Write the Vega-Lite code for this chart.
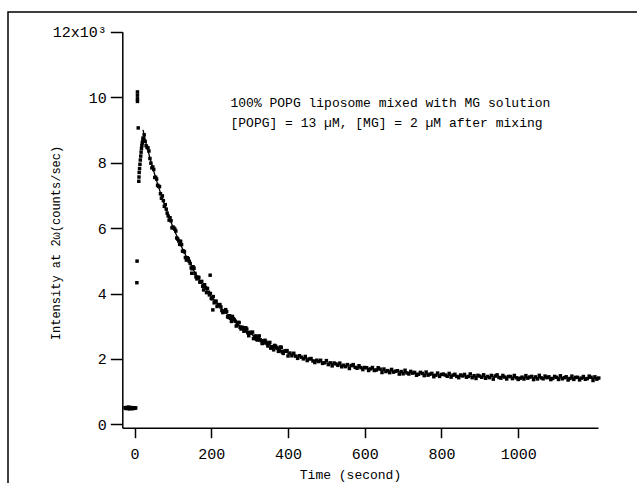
{
  "$schema": "https://vega.github.io/schema/vega-lite/v6.json",
  "autosize": {"type": "none"},
  "width": 629,
  "height": 471,
  "padding": {"left": 8, "top": 12, "right": 0, "bottom": 0},
  "background": "white",
  "config": {
    "view": {"stroke": "black", "strokeWidth": 1.5, "strokeDash": [629, 1100, 471]},
    "axis": {
      "grid": false,
      "domainColor": "black",
      "domainWidth": 1.5,
      "tickColor": "black",
      "tickWidth": 1.5,
      "labelFont": "Liberation Mono",
      "labelFontSize": 15,
      "labelColor": "black",
      "titleFont": "Liberation Mono",
      "titleColor": "black",
      "titleFontWeight": "normal"
    }
  },
  "datasets": {
    "pts": [
      {"t":-25,"v":510},{"t":-23,"v":490},{"t":-21,"v":520},{"t":-19,"v":485},{"t":-17,"v":500},{"t":-15,"v":530},{"t":-13,"v":475},{"t":-11,"v":505},{"t":-9,"v":495},{"t":-7,"v":515},{"t":-5,"v":480},{"t":-3,"v":500},{"t":-1,"v":510},{"t":1,"v":495},{"t":3,"v":505},
      {"t":6,"v":4330},{"t":6.5,"v":4990},{"t":7.5,"v":9870},{"t":7.5,"v":9950},{"t":7.5,"v":10060},{"t":7.5,"v":10160},{"t":9.5,"v":9060},
      {"t":11,"v":7430},{"t":11.5,"v":7560},{"t":12,"v":7700},{"t":13,"v":7820},{"t":14,"v":7950},{"t":15,"v":8080},{"t":16,"v":8200},{"t":17,"v":8320},{"t":18,"v":8430},{"t":19,"v":8520},{"t":20,"v":8600},{"t":21,"v":8650},{"t":22,"v":8750},{"t":23,"v":8700},
      {"t":25,"v":8848},{"t":30,"v":8518},{"t":35,"v":8450},{"t":40,"v":8125},{"t":45,"v":7839},{"t":50,"v":7791},{"t":55,"v":7551},{"t":60,"v":7307},{"t":65,"v":7266},{"t":70,"v":6912},
      {"t":75,"v":6838},{"t":80,"v":6716},{"t":85,"v":6455},{"t":90,"v":6243},{"t":95,"v":6223},{"t":100,"v":6032},{"t":105,"v":5966},{"t":110,"v":5696},{"t":115,"v":5606},{"t":120,"v":5597},
      {"t":125,"v":5295},{"t":130,"v":5273},{"t":135,"v":5022},{"t":140,"v":5062},{"t":145,"v":4918},{"t":150,"v":4756},{"t":155,"v":4773},{"t":160,"v":4508},{"t":165,"v":4499},{"t":170,"v":4349},
      {"t":175,"v":4371},{"t":180,"v":4110},{"t":185,"v":4181},{"t":190,"v":4156},{"t":195,"v":3958},{"t":200,"v":3849},{"t":205,"v":3908},{"t":210,"v":3760},{"t":215,"v":3604},{"t":220,"v":3658},
      {"t":149,"v":4620},{"t":197,"v":4560},{"t":204,"v":3500},
      {"t":225,"v":3590},{"t":230,"v":3417},{"t":235,"v":3436},{"t":240,"v":3447},{"t":245,"v":3270},{"t":250,"v":3244},{"t":255,"v":3300},{"t":260,"v":3197},{"t":265,"v":3006},{"t":270,"v":3117},
      {"t":275,"v":2969},{"t":280,"v":2973},{"t":285,"v":2848},{"t":290,"v":2954},{"t":295,"v":2801},{"t":300,"v":2810},{"t":305,"v":2800},{"t":310,"v":2622},{"t":315,"v":2705},{"t":320,"v":2578},
      {"t":325,"v":2703},{"t":330,"v":2558},{"t":335,"v":2485},{"t":340,"v":2572},{"t":345,"v":2471},{"t":350,"v":2480},{"t":355,"v":2331},{"t":360,"v":2352},{"t":365,"v":2415},{"t":370,"v":2348},
      {"t":375,"v":2232},{"t":380,"v":2366},{"t":385,"v":2212},{"t":390,"v":2238},{"t":395,"v":2255},{"t":400,"v":2092},
      {"t":27.5,"v":8650},{"t":32.5,"v":8463},{"t":37.5,"v":8355},{"t":42.5,"v":7983},{"t":47.5,"v":7867},{"t":52.5,"v":7548},{"t":57.5,"v":7496},{"t":62.5,"v":7279},{"t":67.5,"v":7048},{"t":72.5,"v":6983},
      {"t":77.5,"v":6663},{"t":82.5,"v":6579},{"t":87.5,"v":6370},{"t":92.5,"v":6315},{"t":97.5,"v":6006},{"t":102.5,"v":6001},{"t":107.5,"v":5910},{"t":112.5,"v":5664},{"t":117.5,"v":5502},{"t":122.5,"v":5494},
      {"t":127.5,"v":5301},{"t":132.5,"v":5101},{"t":137.5,"v":5094},{"t":142.5,"v":4982},{"t":147.5,"v":4783},{"t":152.5,"v":4817},{"t":157.5,"v":4615},{"t":162.5,"v":4447},{"t":167.5,"v":4491},{"t":172.5,"v":4359},
      {"t":177.5,"v":4223},{"t":182.5,"v":4269},{"t":187.5,"v":4027},{"t":192.5,"v":4039},{"t":197.5,"v":4002},{"t":202.5,"v":3838},{"t":207.5,"v":3716},{"t":212.5,"v":3766},{"t":217.5,"v":3659},{"t":222.5,"v":3663},
      {"t":227.5,"v":3479},{"t":232.5,"v":3457},{"t":237.5,"v":3507},{"t":242.5,"v":3289},{"t":247.5,"v":3322},{"t":252.5,"v":3147},{"t":257.5,"v":3234},{"t":262.5,"v":3152},{"t":267.5,"v":3052},{"t":272.5,"v":3113},
      {"t":277.5,"v":2916},{"t":282.5,"v":2951},{"t":287.5,"v":2856},{"t":292.5,"v":2913},{"t":297.5,"v":2711},{"t":302.5,"v":2810},{"t":307.5,"v":2821},{"t":312.5,"v":2674},{"t":317.5,"v":2607},{"t":322.5,"v":2691},
      {"t":327.5,"v":2586},{"t":332.5,"v":2472},{"t":337.5,"v":2549},{"t":342.5,"v":2517},{"t":347.5,"v":2396},{"t":352.5,"v":2506},{"t":357.5,"v":2377},{"t":362.5,"v":2279},{"t":367.5,"v":2392},{"t":372.5,"v":2325},
      {"t":377.5,"v":2249},{"t":382.5,"v":2354},{"t":387.5,"v":2170},{"t":392.5,"v":2237},{"t":397.5,"v":2254},
      {"t":405,"v":2181},{"t":410,"v":2097},{"t":415,"v":2175},{"t":420,"v":2086},{"t":425,"v":2019},{"t":430,"v":2099},{"t":435,"v":2054},{"t":440,"v":2003},{"t":445,"v":2078},{"t":450,"v":1951},
      {"t":455,"v":2000},{"t":460,"v":2014},{"t":465,"v":1938},{"t":470,"v":1890},{"t":475,"v":1962},{"t":480,"v":1922},{"t":485,"v":1960},{"t":490,"v":1865},{"t":495,"v":1883},{"t":500,"v":1950},
      {"t":505,"v":1828},{"t":510,"v":1882},{"t":515,"v":1789},{"t":520,"v":1878},{"t":525,"v":1848},{"t":530,"v":1805},{"t":535,"v":1874},{"t":540,"v":1761},{"t":545,"v":1809},{"t":550,"v":1766},
      {"t":555,"v":1828},{"t":560,"v":1709},{"t":565,"v":1800},{"t":570,"v":1828},{"t":575,"v":1744},{"t":580,"v":1716},{"t":585,"v":1793},{"t":590,"v":1737},{"t":595,"v":1675},{"t":600,"v":1739},
      {"t":605,"v":1732},{"t":610,"v":1648},{"t":615,"v":1697},{"t":620,"v":1739},{"t":625,"v":1648},{"t":630,"v":1662},{"t":635,"v":1732},{"t":640,"v":1690},{"t":645,"v":1586},{"t":650,"v":1692},
      {"t":655,"v":1615},{"t":660,"v":1644},{"t":665,"v":1582},{"t":670,"v":1681},{"t":675,"v":1598},{"t":680,"v":1627},{"t":685,"v":1642},{"t":690,"v":1538},{"t":695,"v":1616},{"t":700,"v":1547},
      {"t":705,"v":1655},{"t":710,"v":1573},{"t":715,"v":1541},{"t":720,"v":1620},{"t":725,"v":1567},{"t":730,"v":1590},{"t":735,"v":1502},{"t":740,"v":1533},{"t":745,"v":1591},{"t":750,"v":1559},
      {"t":755,"v":1492},{"t":760,"v":1600},{"t":765,"v":1505},{"t":770,"v":1536},{"t":775,"v":1560},{"t":780,"v":1458},{"t":785,"v":1503},{"t":790,"v":1569},{"t":795,"v":1467},{"t":800,"v":1526},
      {"t":805,"v":1538},{"t":810,"v":1508},{"t":815,"v":1470},{"t":820,"v":1559},{"t":825,"v":1445},{"t":830,"v":1506},{"t":835,"v":1532},{"t":840,"v":1467},{"t":845,"v":1429},{"t":850,"v":1511},
      {"t":855,"v":1481},{"t":860,"v":1528},{"t":865,"v":1442},{"t":870,"v":1468},{"t":875,"v":1543},{"t":880,"v":1429},{"t":885,"v":1490},{"t":890,"v":1404},{"t":895,"v":1500},{"t":900,"v":1477},
      {"t":905,"v":1441},{"t":910,"v":1516},{"t":915,"v":1410},{"t":920,"v":1465},{"t":925,"v":1429},{"t":930,"v":1497},{"t":935,"v":1384},{"t":940,"v":1481},{"t":945,"v":1515},{"t":950,"v":1436},
      {"t":955,"v":1414},{"t":960,"v":1497},{"t":965,"v":1447},{"t":970,"v":1389},{"t":975,"v":1465},{"t":980,"v":1464},{"t":985,"v":1400},{"t":990,"v":1496},{"t":995,"v":1425},{"t":1000,"v":1375},
      {"t":1005,"v":1409},{"t":1010,"v":1444},{"t":1015,"v":1387},{"t":1020,"v":1491},{"t":1025,"v":1414},{"t":1030,"v":1448},{"t":1035,"v":1468},{"t":1040,"v":1370},{"t":1045,"v":1453},{"t":1050,"v":1389},
      {"t":1055,"v":1500},{"t":1060,"v":1423},{"t":1065,"v":1394},{"t":1070,"v":1477},{"t":1075,"v":1428},{"t":1080,"v":1455},{"t":1085,"v":1370},{"t":1090,"v":1404},{"t":1095,"v":1467},{"t":1100,"v":1438},
      {"t":1105,"v":1374},{"t":1110,"v":1486},{"t":1115,"v":1394},{"t":1120,"v":1428},{"t":1125,"v":1456},{"t":1130,"v":1357},{"t":1135,"v":1405},{"t":1140,"v":1475},{"t":1145,"v":1376},{"t":1150,"v":1438},
      {"t":1155,"v":1438},{"t":1160,"v":1360},{"t":1165,"v":1415},{"t":1170,"v":1464},{"t":1175,"v":1379},{"t":1180,"v":1400},{"t":1185,"v":1476},{"t":1190,"v":1441},{"t":1195,"v":1342},{"t":1200,"v":1454},
      {"t":1205,"v":1383},{"t":1210,"v":1418}
    ],
    "fit": [
      {"t":22,"v":9000},{"t":30,"v":8584},{"t":40,"v":8147},{"t":50,"v":7736},{"t":60,"v":7351},{"t":70,"v":6989},{"t":80,"v":6650},{"t":90,"v":6331},{"t":100,"v":6032},
      {"t":120,"v":5487},{"t":140,"v":5007},{"t":160,"v":4585},{"t":180,"v":4220},{"t":200,"v":3904},{"t":225,"v":3560},{"t":250,"v":3264},{"t":275,"v":3009},{"t":300,"v":2790},
      {"t":325,"v":2603},{"t":350,"v":2440},{"t":375,"v":2302},{"t":400,"v":2182},{"t":450,"v":2000},{"t":500,"v":1880},{"t":550,"v":1794},{"t":600,"v":1718},{"t":700,"v":1589},
      {"t":800,"v":1505},{"t":900,"v":1463},{"t":1000,"v":1438},{"t":1100,"v":1424},{"t":1210,"v":1411}
    ]
  },
  "encoding": {
    "x": {
      "field": "t", "type": "quantitative",
      "scale": {"domain": [-32, 1208], "range": [114.3, 590], "nice": false, "zero": false},
      "axis": {
        "orient": "bottom", "offset": -55.3,
        "values": [0, 200, 400, 600, 800, 1000],
        "format": "d",
        "tickSize": 10, "labelPadding": 9,
        "title": "Time (second)", "titleFontSize": 13,
        "titleX": 342, "titleY": 47, "titleAlign": "center", "titleBaseline": "middle"
      }
    },
    "y": {
      "field": "v", "type": "quantitative",
      "scale": {"domain": [-100, 12000], "range": [415.7, 19.7], "nice": false, "zero": false},
      "axis": {
        "orient": "left", "offset": -114.3,
        "values": [0, 2000, 4000, 6000, 8000, 10000, 12000],
        "labelExpr": "datum.value == 12000 ? '12x10³\u00a0' : format(datum.value / 1000, 'd')",
        "tickSize": 12, "labelPadding": 4,
        "title": "Intensity at 2ω(counts/sec)", "titleFontSize": 12,
        "titleX": -67, "titleY": 230.5, "titleAngle": -90, "titleAlign": "center", "titleBaseline": "middle"
      }
    }
  },
  "layer": [
    {
      "data": {"name": "pts"},
      "mark": {"type": "point", "shape": "square", "filled": true, "size": 12, "color": "black", "opacity": 1}
    },
    {
      "data": {"name": "fit"},
      "mark": {"type": "line", "color": "black", "strokeWidth": 1.3}
    },
    {
      "data": {"name": "pts"},
      "transform": [{"filter": "datum.t == 250"}],
      "mark": {"type": "text", "text": "100% POPG liposome mixed with MG solution", "align": "left", "baseline": "middle", "font": "Liberation Mono", "fontSize": 13, "color": "black"},
      "encoding": {
        "y": {"datum": 9820}
      }
    },
    {
      "data": {"name": "pts"},
      "transform": [{"filter": "datum.t == 250"}],
      "mark": {"type": "text", "text": "[POPG] = 13 µM, [MG] = 2 µM after mixing", "align": "left", "baseline": "middle", "font": "Liberation Mono", "fontSize": 13, "color": "black"},
      "encoding": {
        "y": {"datum": 9210}
      }
    }
  ]
}
